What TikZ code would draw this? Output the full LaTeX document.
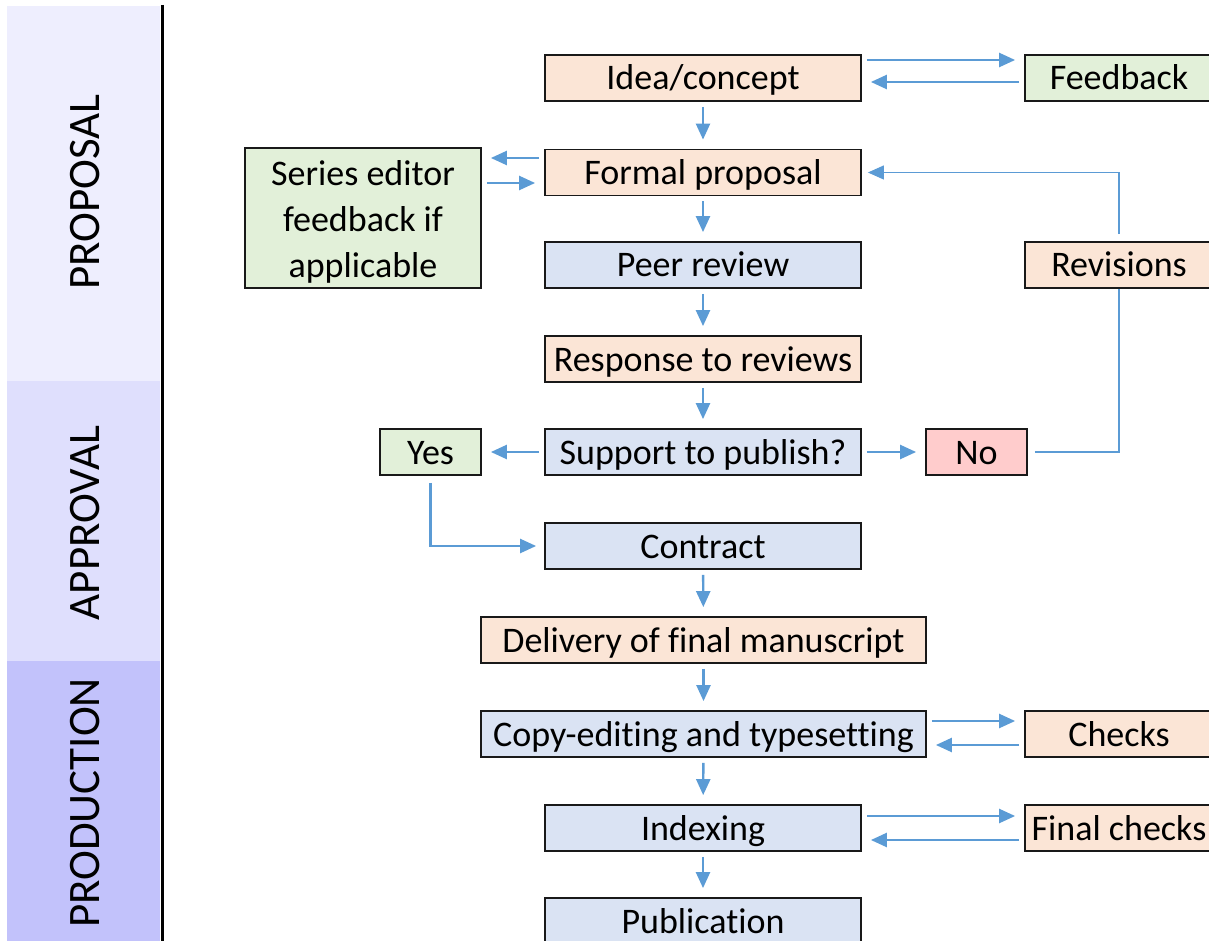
\documentclass[tikz,border=0pt]{standalone}
\usepackage{fontspec}
\setmainfont{Carlito}[Ligatures=NoCommon]
\usetikzlibrary{arrows.meta}
\definecolor{peach}{HTML}{FBE5D6}
\definecolor{leaf}{HTML}{E2F0D9}
\definecolor{steel}{HTML}{DAE3F3}
\definecolor{rose}{HTML}{FFCCCC}
\definecolor{flow}{HTML}{5B9BD5}
\definecolor{phaseA}{HTML}{EEEEFE}
\definecolor{phaseB}{HTML}{DFDFFD}
\definecolor{phaseC}{HTML}{C2C2FB}
\begin{document}
\begin{tikzpicture}[x=0.5pt, y=-0.5pt,
        mainbox/.style={draw=black!90, line width=0.9pt, minimum width=158pt,
        minimum height=23pt, inner sep=0pt, align=center, text height=13pt, text depth=1pt,
        font=\fontsize{18}{23}\selectfont},
        widebox/.style={mainbox, minimum width=222.5pt},
        sidebox/.style={mainbox, minimum width=94pt},
        tinybox/.style={mainbox, minimum width=50.5pt},
        flowarrow/.style={draw=flow, line width=1.2pt, -{Triangle[length=8pt,width=7pt]},
        shorten <=2.5pt, shorten >=4.5pt},
        flowline/.style={draw=flow, line width=0.6pt, shorten <=3.5pt},
        phaselabel/.style={rotate=90, font=\fontsize{22.5}{27}\selectfont}]
    \useasboundingbox (0,0) rectangle (1209,941);
        \foreach \top/\bot/\col/\name/\mid in {6/381/phaseA/PROPOSAL/192,
        381/661/phaseB/APPROVAL/523, 661/941/phaseC/PRODUCTION/803}
        {
        \fill[\col] (7,\top) rectangle (160,\bot);
        \node[phaselabel] (\name) at (85,\mid) {\name};
        }
        \draw[line width=1.5pt] (162,5) -- (162,941);
    \node[mainbox, fill=peach] (idea) at (703,78) {Idea/concept};
    \node[sidebox, fill=leaf] (feedback) at (1119,78) {Feedback};
    \node[mainbox, fill=peach] (formal) at (703,172.5) {Formal proposal};
    \node[mainbox, fill=leaf, minimum width=118pt, minimum height=70pt,
        text height={}, text depth={}] (series)
        at (363,218) {\rule{0pt}{16pt}Series editor\\feedback if\\applicable};
    \node[mainbox, fill=steel] (peer) at (703,265) {Peer review};
    \node[sidebox, fill=peach] (revisions) at (1119,265) {Revisions};
    \node[mainbox, fill=peach] (response) at (703,359) {Response to reviews};
    \node[mainbox, fill=steel] (support) at (703,452) {Support to publish?};
    \node[tinybox, fill=leaf] (yes) at (430.5,452) {Yes};
    \node[tinybox, fill=rose] (no) at (976.5,452) {No};
    \node[mainbox, fill=steel] (contract) at (703,546) {Contract};
    \node[widebox, fill=peach] (delivery) at (703.5,640) {Delivery of final manuscript};
    \node[widebox, fill=steel] (copyedit) at (703.5,734) {Copy-editing and typesetting};
    \node[sidebox, fill=peach] (checks) at (1119,734) {Checks};
    \node[mainbox, fill=steel] (indexing) at (703,828) {Indexing};
    \node[sidebox, fill=peach] (finalchecks) at (1119,828) {Final checks};
    \node[mainbox, fill=steel] (publication) at (703,921) {Publication};
        \foreach \a/\b in {idea/formal, formal/peer, peer/response, response/support,
        contract/delivery, delivery/copyedit, copyedit/indexing, indexing/publication}
        \draw[flowarrow] (\a) -- (\b);
    \draw[flowarrow] (idea.east |- 0,60) -- (feedback.west |- 0,60);
    \draw[flowarrow] (feedback.west |- 0,82) -- (idea.east |- 0,82);
    \draw[flowarrow] (formal.west |- 0,158) -- (series.east |- 0,158);
    \draw[flowarrow] (series.east |- 0,183) -- (formal.west |- 0,183);
    \draw[flowarrow] (support) -- (yes);
    \draw[flowarrow] (support) -- (no);
    \draw[flowline] (no.east) -| (revisions.south);
    \draw[flowline, -{Triangle[length=8pt,width=7pt]}, shorten >=3pt] (revisions.north) |- (formal.east);
    \draw[flowline, line width=1.2pt, -{Triangle[length=8pt,width=7pt]}, shorten >=4pt] (yes.south) |- (contract.west);
    \draw[flowarrow] (copyedit.east |- 0,721) -- (checks.west |- 0,721);
    \draw[flowarrow] (checks.west |- 0,745) -- (copyedit.east |- 0,745);
    \draw[flowarrow] (indexing.east |- 0,816) -- (finalchecks.west |- 0,816);
    \draw[flowarrow] (finalchecks.west |- 0,840) -- (indexing.east |- 0,840);
\end{tikzpicture}
\end{document}
